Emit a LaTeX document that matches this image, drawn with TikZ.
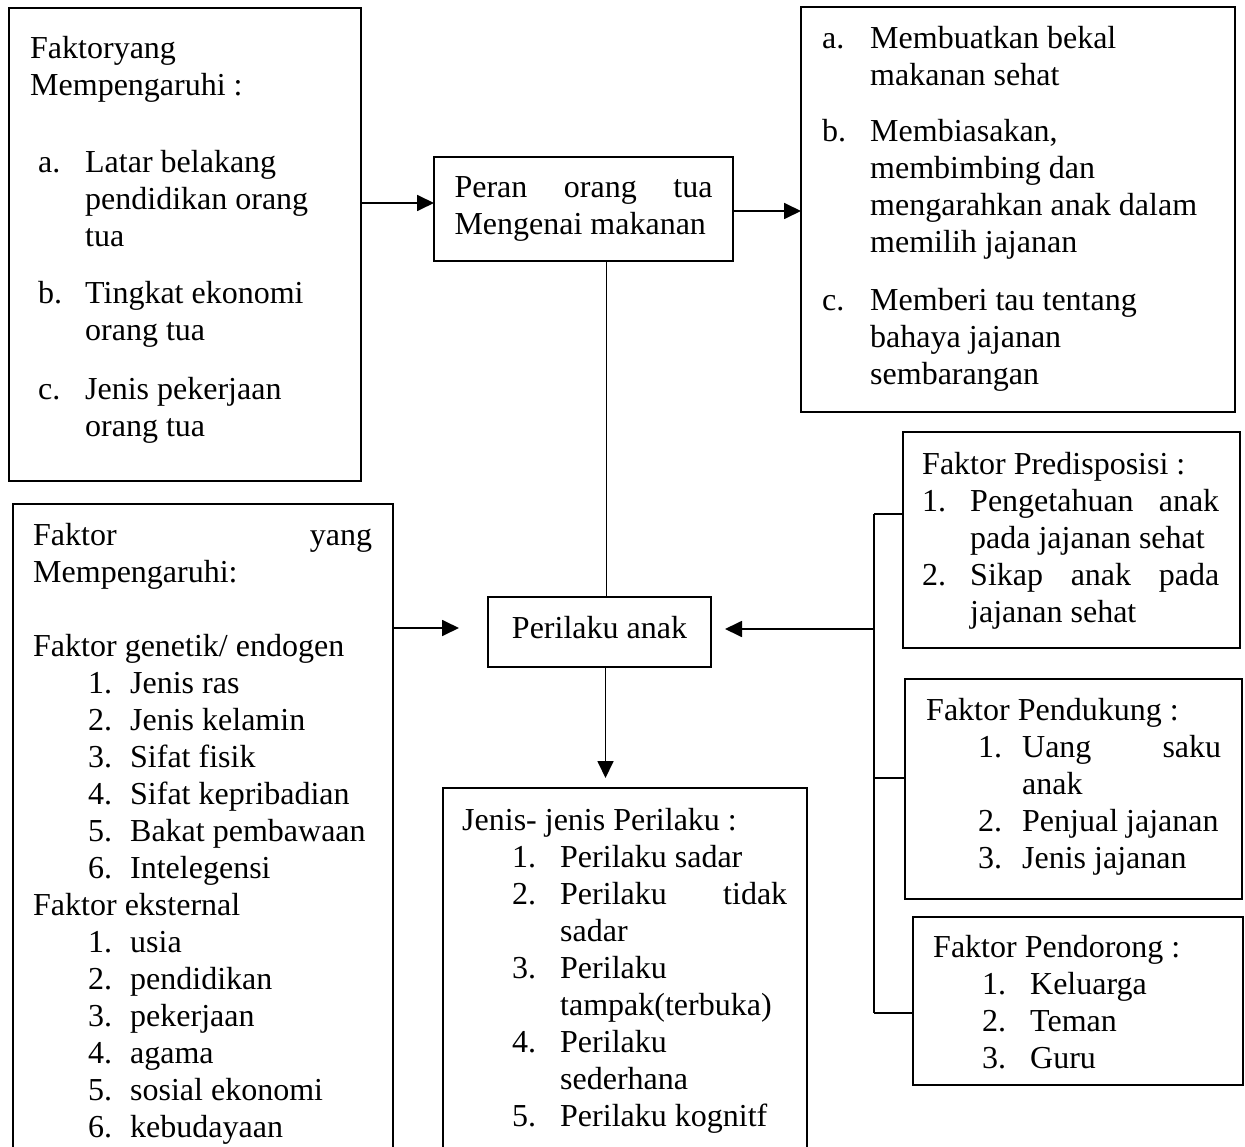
\documentclass[tikz,border=0pt]{standalone}
\usepackage{fontspec}
\setmainfont{Liberation Serif}
\usetikzlibrary{arrows.meta,calc}

\newcommand{\itm}[4]{\hspace*{#1}\makebox[#2][l]{#3}#4}

\begin{document}
\begin{tikzpicture}[x=1pt, y=-1pt,
  box/.style={draw, line width=1.3pt, inner sep=0pt, outer sep=0pt, anchor=north west},
  txt/.style={align=left, inner sep=0pt, anchor=north west, font=\fontsize{32}{37}\selectfont},
  arr/.style={line width=1.8pt, -{Triangle[length=17pt,width=16pt]}},
  link/.style={line width=1.8pt}]

  \useasboundingbox (0,0) rectangle (1245,1147);
  \clip (0,0) rectangle (1245,1147);

  % boxes
  \node [box, minimum width=352pt, minimum height=473pt] (faktorA) at (9,8) {};
  \node [box, minimum width=380pt, minimum height=700pt] (faktorB) at (13,504) {};
  \node [box, txt, anchor=north west, minimum width=299pt, minimum height=104pt] (peran) at (434,157)
    {\makebox[258pt][s]{Peran orang tua}\\ Mengenai makanan};
  \node [box, minimum width=434pt, minimum height=405pt] (saran) at (801,7) {};
  \node [box, txt, anchor=north west, align=center, text depth=10pt, minimum width=223pt, minimum height=70pt] (perilaku) at (488,597)
    {Perilaku anak};
  \node [box, minimum width=364pt, minimum height=412pt] (jenis) at (443,788) {};
  \node [box, minimum width=337pt, minimum height=216pt] (predis) at (903,432) {};
  \node [box, minimum width=337pt, minimum height=220pt] (dukung) at (905,679) {};
  \node [box, minimum width=330pt, minimum height=168pt] (dorong) at (913,917) {};

  % texts
  \node [txt] (faktorAtxt) at (30,36) {Faktoryang\\ Mempengaruhi :\\[40pt]
    \itm{8pt}{47pt}{a.}{Latar belakang}\\ \itm{55pt}{0pt}{}{pendidikan orang}\\ \itm{55pt}{0pt}{}{tua}\\[20pt]
    \itm{8pt}{47pt}{b.}{Tingkat ekonomi}\\ \itm{55pt}{0pt}{}{orang tua}\\[22pt]
    \itm{8pt}{47pt}{c.}{Jenis pekerjaan}\\ \itm{55pt}{0pt}{}{orang tua}};

  \node [txt] (faktorBtxt) at (33,523) {\makebox[339pt][s]{Faktor yang}\\ Mempengaruhi:\\[37pt]
    Faktor genetik/ endogen\\
    \itm{55pt}{42pt}{1.}{Jenis ras}\\ \itm{55pt}{42pt}{2.}{Jenis kelamin}\\
    \itm{55pt}{42pt}{3.}{Sifat fisik}\\ \itm{55pt}{42pt}{4.}{Sifat kepribadian}\\
    \itm{55pt}{42pt}{5.}{Bakat pembawaan}\\ \itm{55pt}{42pt}{6.}{Intelegensi}\\
    Faktor eksternal\\
    \itm{55pt}{42pt}{1.}{usia}\\ \itm{55pt}{42pt}{2.}{pendidikan}\\
    \itm{55pt}{42pt}{3.}{pekerjaan}\\ \itm{55pt}{42pt}{4.}{agama}\\
    \itm{55pt}{42pt}{5.}{sosial ekonomi}\\ \itm{55pt}{42pt}{6.}{kebudayaan}};

  \node [txt] (sarantxt) at (822,26) {\itm{0pt}{48pt}{a.}{Membuatkan bekal}\\ \itm{48pt}{0pt}{}{makanan sehat}\\[19pt]
    \itm{0pt}{48pt}{b.}{Membiasakan,}\\ \itm{48pt}{0pt}{}{membimbing dan}\\
    \itm{48pt}{0pt}{}{mengarahkan anak dalam}\\ \itm{48pt}{0pt}{}{memilih jajanan}\\[21pt]
    \itm{0pt}{48pt}{c.}{Memberi tau tentang}\\ \itm{48pt}{0pt}{}{bahaya jajanan}\\ \itm{48pt}{0pt}{}{sembarangan}};

  \node [txt] (jenistxt) at (462,808) {Jenis- jenis Perilaku :\\
    \itm{50pt}{48pt}{1.}{Perilaku sadar}\\ \itm{50pt}{48pt}{2.}{\makebox[227pt][s]{Perilaku tidak}}\\
    \itm{98pt}{0pt}{}{sadar}\\ \itm{50pt}{48pt}{3.}{Perilaku}\\ \itm{98pt}{0pt}{}{tampak(terbuka)}\\
    \itm{50pt}{48pt}{4.}{Perilaku}\\ \itm{98pt}{0pt}{}{sederhana}\\ \itm{50pt}{48pt}{5.}{Perilaku kognitf}};

  \node [txt] (predistxt) at (922,452) {Faktor Predisposisi :\\
    \itm{0pt}{48pt}{1.}{\makebox[249pt][s]{Pengetahuan anak}}\\ \itm{48pt}{0pt}{}{pada jajanan sehat}\\
    \itm{0pt}{48pt}{2.}{\makebox[249pt][s]{Sikap anak pada}}\\ \itm{48pt}{0pt}{}{jajanan sehat}};

  \node [txt] (dukungtxt) at (926,698) {Faktor Pendukung :\\
    \itm{52pt}{44pt}{1.}{\makebox[199pt][s]{Uang saku}}\\ \itm{96pt}{0pt}{}{anak}\\
    \itm{52pt}{44pt}{2.}{Penjual jajanan}\\ \itm{52pt}{44pt}{3.}{Jenis jajanan}};

  \node [txt] (dorongtxt) at (933,935) {Faktor Pendorong :\\
    \itm{49pt}{48pt}{1.}{Keluarga}\\ \itm{49pt}{48pt}{2.}{Teman}\\ \itm{49pt}{48pt}{3.}{Guru}};

  % connectors
  \coordinate (peranIn) at ([yshift=6pt]peran.west);
  \coordinate (peranOut) at ([yshift=-2pt]peran.east);
  \coordinate (pUp) at ([xshift=7pt]perilaku.north);
  \coordinate (pDown) at ([xshift=6pt]perilaku.south);
  \coordinate (leftIn) at ([xshift=-29pt,yshift=4pt]perilaku.west);
  \coordinate (busTop) at (874,514);
  \coordinate (busMid) at (874,778);
  \coordinate (busArr) at (874,629);
  \coordinate (busBot) at (874,1013);

  \draw [arr] (faktorA.east |- peranIn) -- (peranIn);
  \draw [arr] (peranOut) -- (peranOut -| saran.west);
  \draw [link] (pUp |- peran.south) -- (pUp);
  \draw [arr] (faktorB.east |- leftIn) -- (leftIn);
  \draw [arr] (pDown) -- ($(pDown |- jenis.north)+(0,-10)$);

  \draw [link] (busTop) -- (busBot);
  \draw [link] (busTop) -- (busTop -| predis.west);
  \draw [link] (busMid) -- (busMid -| dukung.west);
  \draw [link] (busBot) -- (busBot -| dorong.west);
  \draw [arr] (busArr) -- ($(busArr -| perilaku.east)+(14,0)$);

\end{tikzpicture}
\end{document}
